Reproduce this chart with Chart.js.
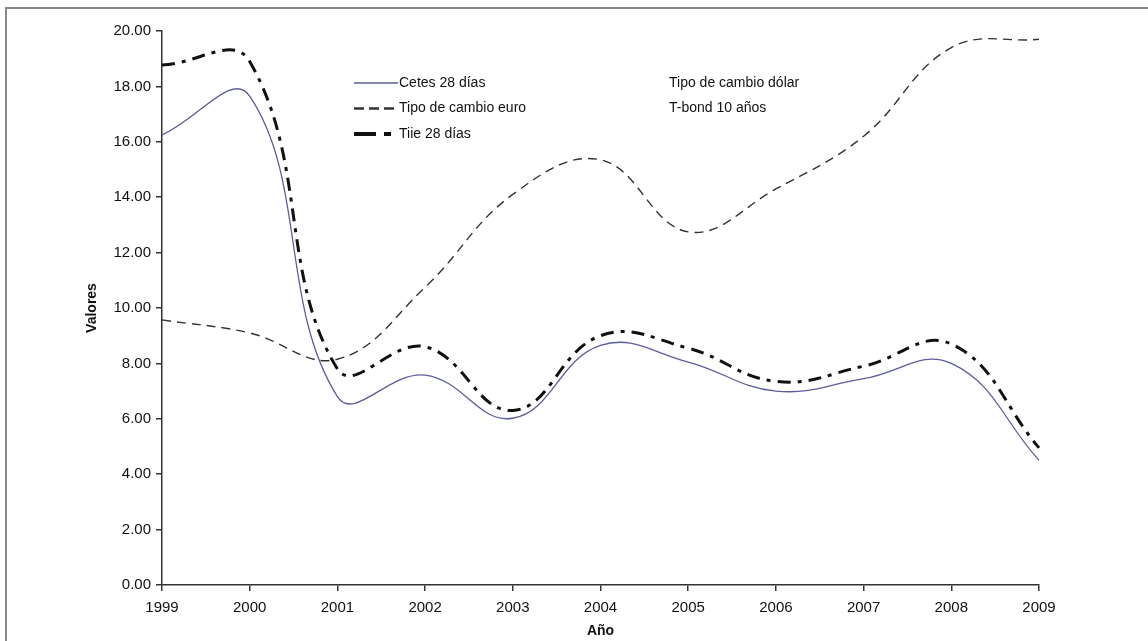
<!DOCTYPE html>
<html>
<head>
<meta charset="utf-8">
<script src="https://cdn.jsdelivr.net/npm/chart.js@4/dist/chart.umd.min.js"></script>
<style>
  body { margin: 0; background: #fff; }
  #frame { position: absolute; left: 5px; top: 7px; width: 1200px; height: 700px;
           border-top: 2px solid #8a8a8a; border-left: 2px solid #8a8a8a; }
  #wrap { position: absolute; left: 0; top: 0; width: 1148px; height: 641px; }
</style>
</head>
<body>
<div id="frame"></div>
<div id="wrap"><canvas id="myChart" width="1148" height="641"></canvas></div>
<script>
// years on the x axis
const years = ['1999','2000','2001','2002','2003','2004','2005','2006','2007','2008','2009'];
// values
const cetes = [16.25, 17.65, 6.8, 7.58, 6.02, 8.65, 8.05, 7.0, 7.45, 8.0, 4.5];
const euro  = [9.57, 9.1, 8.15, 10.75, 14.1, 15.35, 12.75, 14.3, 16.2, 19.4, 19.7];
const tiie  = [18.77, 18.9, 7.8, 8.6, 6.3, 9.0, 8.55, 7.35, 7.9, 8.7, 4.95];
// series in legend with no line drawn
const dolar = [];
const tbond = [];
const yTicks = [0, 2, 4, 6, 8, 10, 12, 14, 16, 18, 20];

const FONT = 'Liberation Sans, Arial, sans-serif';

// legend drawn inside the plot, two columns like the original
const legendPlugin = {
  id: 'inLegend',
  afterDraw(chart) {
    const ctx = chart.ctx;
    const cols = [[0, 1, 2], [3, 4]];
    const colX = [354, 624];
    const rowY = [83, 108.5, 134];
    ctx.save();
    ctx.font = '14px ' + FONT;
    ctx.textBaseline = 'middle';
    ctx.fillStyle = '#111';
    cols.forEach((col, ci) => {
      col.forEach((di, ri) => {
        const ds = chart.data.datasets[di];
        const x = colX[ci], y = rowY[ri];
        if (ds.showLine !== false) {
          ctx.beginPath();
          ctx.strokeStyle = ds.borderColor;
          ctx.lineWidth = ds.legendWidth || ds.borderWidth;
          ctx.setLineDash(ds.legendDash || ds.borderDash || []);
          ctx.moveTo(x, y);
          ctx.lineTo(x + 44, y);
          ctx.stroke();
          ctx.setLineDash([]);
        }
        ctx.fillText(ds.label, x + 45, y);
      });
    });
    ctx.restore();
  }
};

const ctx = document.getElementById('myChart');
new Chart(ctx, {
  type: 'line',
  data: {
    labels: years,
    datasets: [
      { label: 'Cetes 28 días', data: cetes, borderColor: '#5c5c9e', borderWidth: 1.3,
        legendWidth: 1.5, pointRadius: 0, tension: 0.42 },
      { label: 'Tipo de cambio euro', data: euro, borderColor: '#333', borderWidth: 1.4,
        borderDash: [9, 6], legendWidth: 2.6, legendDash: [10, 5], pointRadius: 0, tension: 0.4 },
      { label: 'Tiie 28 días', data: tiie, borderColor: '#111', borderWidth: 3,
        borderDash: [13, 7, 4, 7], legendWidth: 4, legendDash: [22, 8, 7, 8], pointRadius: 0, tension: 0.42 },
      { label: 'Tipo de cambio dólar', data: dolar, showLine: false, pointRadius: 0 },
      { label: 'T-bond 10 años', data: tbond, showLine: false, pointRadius: 0 }
    ]
  },
  options: {
    responsive: false,
    animation: false,
    layout: { padding: { left: 80, right: 109, top: 31, bottom: 0 } },
    plugins: { legend: { display: false }, tooltip: { enabled: false } },
    scales: {
      x: {
        afterFit(scale) { scale.height = 56; },
        grid: { drawOnChartArea: false, tickLength: 6, color: '#333', lineWidth: 1.5 },
        border: { color: '#333', width: 1.5 },
        ticks: { color: '#111', font: { family: FONT, size: 15 }, padding: 8, maxRotation: 0 },
        title: { display: true, text: 'Año', color: '#111', font: { family: FONT, size: 14, weight: 'bold' },
                 padding: { top: 0, bottom: 1 } }
      },
      y: {
        min: 0, max: 20,
        afterFit(scale) { scale.width = 82; },
        afterBuildTicks(scale) { scale.ticks = yTicks.map(v => ({ value: v })); },
        grid: { drawOnChartArea: false, tickLength: 6, color: '#333', lineWidth: 1.5 },
        border: { color: '#333', width: 1.5 },
        ticks: { color: '#111', font: { family: FONT, size: 15 }, padding: 5,
                 callback: v => Number(v).toFixed(2) },
        title: { display: true, text: 'Valores', color: '#111', font: { family: FONT, size: 14, weight: 'bold' },
                 padding: { top: 4, bottom: 0 } }
      }
    }
  },
  plugins: [legendPlugin]
});
</script>
</body>
</html>
